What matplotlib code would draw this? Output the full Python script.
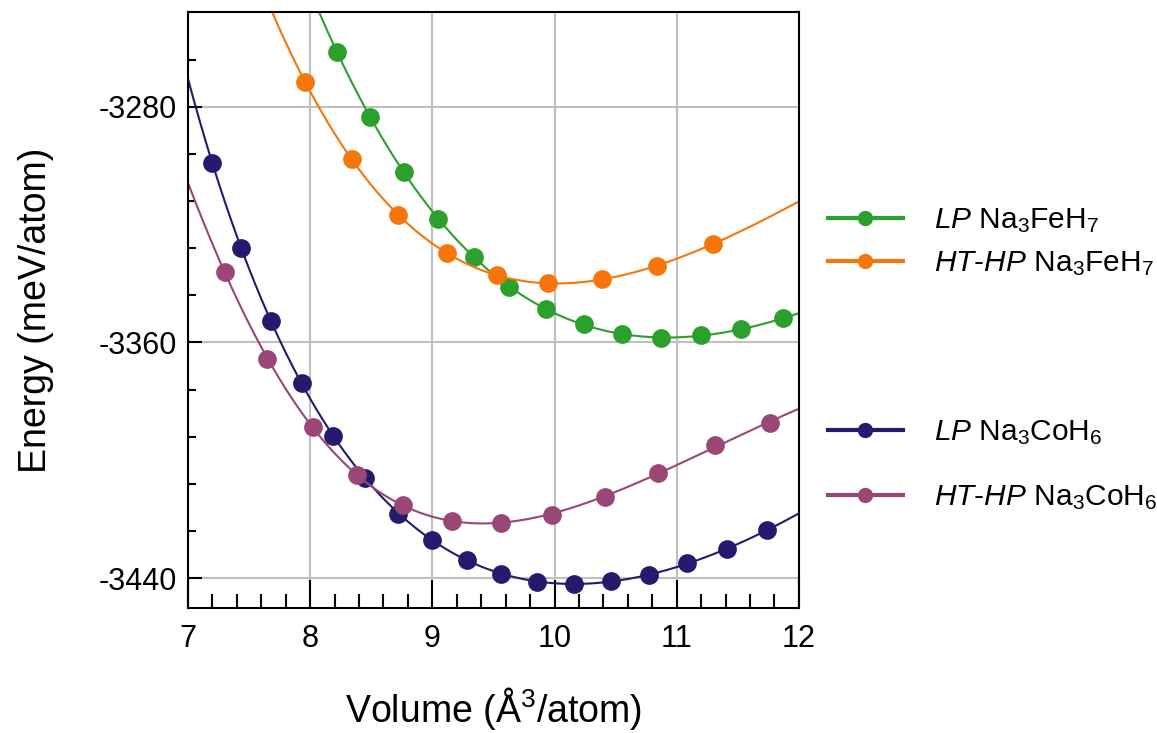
import matplotlib
matplotlib.use("Agg")
import matplotlib.pyplot as plt
from matplotlib.lines import Line2D
from matplotlib.ticker import MultipleLocator
import numpy as np

plt.rcParams['font.family'] = ['Liberation Sans', 'DejaVu Sans']
plt.rcParams['mathtext.fontset'] = 'custom'
plt.rcParams['mathtext.rm'] = 'Liberation Sans'
plt.rcParams['mathtext.it'] = 'Liberation Sans:italic'
plt.rcParams['axes.unicode_minus'] = False

# values (volume in A^3/atom, energy in meV/atom)
lp_fe_v = [8.22, 8.49, 8.77, 9.05, 9.34, 9.63, 9.93, 10.24, 10.55, 10.87, 11.20, 11.53, 11.87]
lp_fe_e = [-3261.4, -3283.6, -3302.3, -3318.1, -3331.0, -3341.1, -3348.7, -3353.9,
           -3357.1, -3358.4, -3357.6, -3355.5, -3351.8]

hp_fe_v = [7.96, 8.34, 8.72, 9.12, 9.53, 9.95, 10.39, 10.84, 11.30]
hp_fe_e = [-3271.7, -3297.8, -3316.7, -3329.7, -3337.2, -3339.9, -3338.6, -3333.9, -3326.5]

lp_co_v = [7.20, 7.43, 7.68, 7.93, 8.19, 8.45, 8.72, 9.00, 9.28, 9.56, 9.86, 10.16,
           10.46, 10.77, 11.08, 11.41, 11.74]
lp_co_e = [-3299.0, -3327.9, -3352.7, -3373.8, -3391.6, -3406.0, -3418.2, -3427.1,
           -3433.7, -3438.5, -3441.2, -3442.1, -3441.0, -3438.8, -3435.0, -3430.1, -3423.7]

hp_co_v = [7.30, 7.65, 8.02, 8.38, 8.76, 9.16, 9.56, 9.98, 10.41, 10.85, 11.31, 11.76]
hp_co_e = [-3336.0, -3365.7, -3388.7, -3404.9, -3415.0, -3420.5, -3421.2, -3418.4,
           -3412.5, -3404.3, -3394.9, -3387.3]

labels = [r'$\mathit{LP}$ Na$_3$FeH$_7$',
          r'$\mathit{HT}$-$\mathit{HP}$ Na$_3$FeH$_7$',
          r'$\mathit{LP}$ Na$_3$CoH$_6$',
          r'$\mathit{HT}$-$\mathit{HP}$ Na$_3$CoH$_6$']
colors = ['#2ca02c', '#f7760b', '#251a6e', '#9a4677']

series = [(lp_co_v, lp_co_e, colors[2]),
          (hp_co_v, hp_co_e, colors[3]),
          (lp_fe_v, lp_fe_e, colors[0]),
          (hp_fe_v, hp_fe_e, colors[1])]

fig = plt.figure(figsize=(11.57, 7.33), dpi=100)
ax = fig.add_axes([0.1625, 0.171, 0.528, 0.812])

vv = np.linspace(7, 12, 400)
for v, e, c in series:
    v = np.array(v)
    # smooth E(V) fit in powers of V^(-2/3) (Birch-Murnaghan style)
    coef = np.polyfit(v ** (-2 / 3), e, 4)
    ax.plot(vv, np.polyval(coef, vv ** (-2 / 3)), color=c, lw=1.5)
    ax.plot(v, e, 'o', color=c, ms=13.5, mew=0)

ax.set_xlim(7, 12)
ax.set_ylim(-3450, -3248)
ax.xaxis.set_major_locator(MultipleLocator(1))
ax.xaxis.set_minor_locator(MultipleLocator(0.2))
ax.yaxis.set_major_locator(MultipleLocator(80))
ax.yaxis.set_minor_locator(MultipleLocator(16))
ax.grid(True, which='major', color='#c0c0c0', lw=1.5)
ax.set_axisbelow(True)
ax.tick_params(axis='x', which='major', direction='in', length=20, width=1.5, labelsize=22, pad=12)
ax.tick_params(axis='x', which='minor', direction='in', length=10, width=1.5)
ax.tick_params(axis='y', which='major', direction='in', length=10, width=1.5, labelsize=22, pad=8)
ax.tick_params(axis='y', which='minor', direction='in', length=6, width=1.5)
for s in ax.spines.values():
    s.set_linewidth(1.5)

ax.set_xlabel('Volume (Å$^3$/atom)', fontsize=27, labelpad=22)
ax.set_ylabel('Energy (meV/atom)', fontsize=27, labelpad=32)

# one legend per entry so the gaps match the picture
leg_y = [0.699, 0.640, 0.4094, 0.3207]
for lab, c, y in zip(labels, colors, leg_y):
    h = Line2D([], [], color=c, lw=3, marker='o', ms=11, mew=0)
    fig.legend([h], [lab], loc='center left', bbox_to_anchor=(0.7157, y),
               frameon=False, fontsize=21.5, handlelength=2.5, handletextpad=1.05,
               borderpad=0, borderaxespad=0, numpoints=1)

fig.savefig('out.png', dpi=100)
